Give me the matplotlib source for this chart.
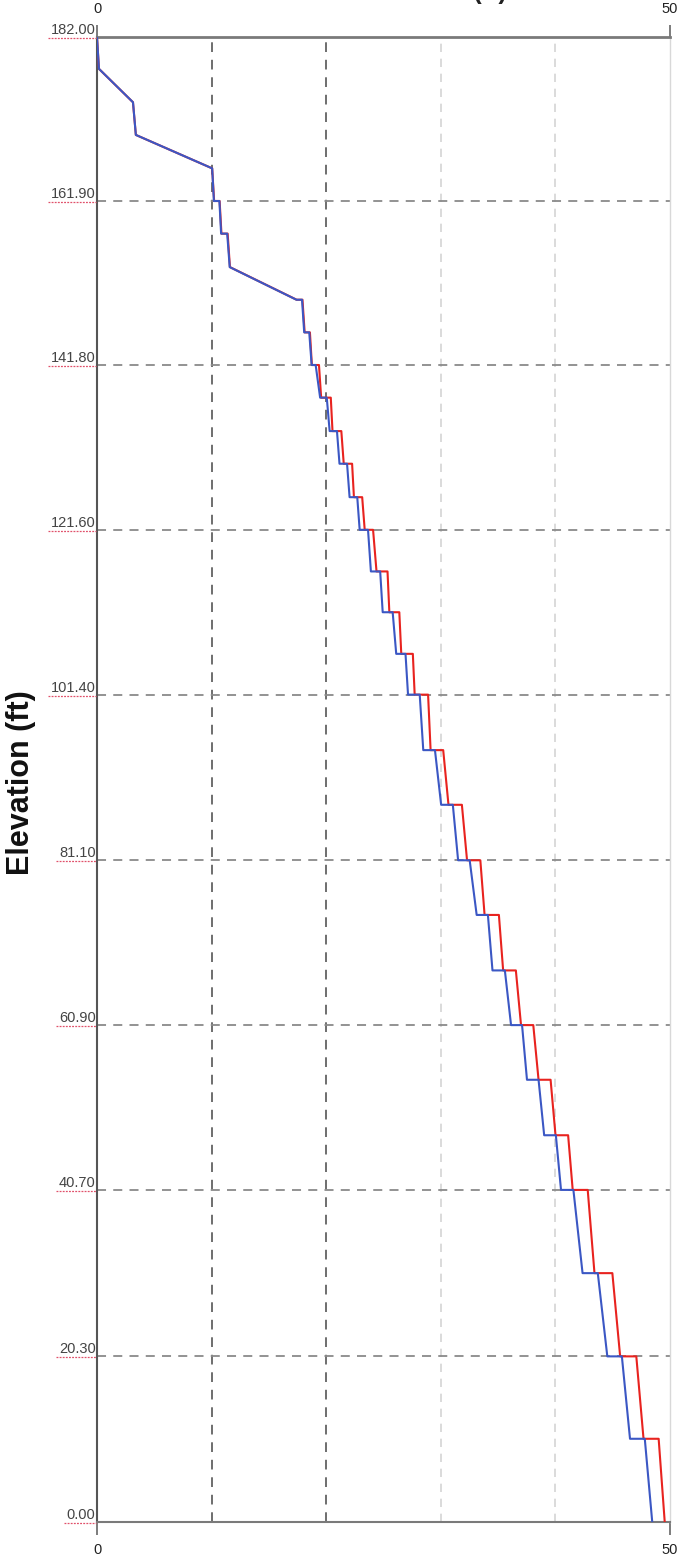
import matplotlib
matplotlib.use("Agg")
import matplotlib.pyplot as plt
from matplotlib.lines import Line2D

plt.rcParams["font.family"] = ["Liberation Sans", "DejaVu Sans"]

# node elevations along the profile (ft), top to bottom
node_elev = [182.0, 178.1, 174.0, 170.0, 165.9, 161.9, 157.9, 153.8, 149.8, 145.8,
             141.8, 137.8, 133.7, 129.7, 125.6, 121.6, 116.5, 111.5, 106.4, 101.4,
             94.6, 87.9, 81.1, 74.4, 67.6, 60.9, 54.2, 47.4, 40.7, 30.5,
             20.3, 10.2, 0.0]

# value reaching each node, and value right after the step at that node
blue_arrive = [0.0, 0.17, 3.14, 3.39, 10.05, 10.20, 10.83, 11.58, 17.40, 18.08,
               18.73, 19.47, 20.30, 21.16, 22.04, 22.92, 23.90, 24.93, 26.11, 27.14,
               28.47, 30.03, 31.51, 33.13, 34.51, 36.13, 37.52, 39.02, 40.49, 42.37,
               44.53, 46.51, 48.45]
blue_leave = [0.0, 0.17, 3.14, 3.39, 10.05, 10.68, 11.36, 11.58, 17.89, 18.52,
              19.08, 20.05, 20.94, 21.82, 22.71, 23.65, 24.71, 25.80, 26.92, 28.16,
              29.49, 31.05, 32.52, 34.11, 35.59, 37.09, 38.53, 40.04, 41.57, 43.70,
              45.80, 47.80, 48.45]
red_arrive = [0.0, 0.17, 3.14, 3.39, 10.05, 10.22, 10.86, 11.60, 17.42, 18.12,
              18.75, 19.56, 20.55, 21.53, 22.42, 23.36, 24.39, 25.51, 26.55, 27.72,
              29.11, 30.67, 32.29, 33.82, 35.44, 37.00, 38.53, 40.01, 41.51, 43.41,
              45.65, 47.69, 49.54]
red_leave = [0.0, 0.17, 3.14, 3.39, 10.05, 10.70, 11.40, 11.60, 17.93, 18.58,
             19.37, 20.40, 21.32, 22.26, 23.14, 24.09, 25.35, 26.38, 27.56, 28.89,
             30.21, 31.84, 33.45, 35.07, 36.55, 38.07, 39.58, 41.11, 42.82, 44.97,
             47.06, 49.01, 49.54]

y_ticks = [0.0, 20.3, 40.7, 60.9, 81.1, 101.4, 121.6, 141.8, 161.9, 182.0]
y_tick_labels = ["0.00", "20.30", "40.70", "60.90", "81.10", "101.40", "121.60",
                 "141.80", "161.90", "182.00"]
x_ticks = [0, 50]
x_grid_dark = [10, 20]
x_grid_light = [30, 40]


def profile(arrive, leave):
    xs, ys = [], []
    for e, a, l in zip(node_elev, arrive, leave):
        xs += [a, l]
        ys += [e, e]
    return xs, ys


fig = plt.figure(figsize=(6.81, 15.55), dpi=100)
W, H = 681, 1555
ax = fig.add_axes([97 / W, 1 - 1522 / H, (670 - 97) / W, (1522 - 37) / H])
ax.set_xlim(0, 50)
ax.set_ylim(0, 182)

dash = (0, (5, 4))
for x in x_grid_dark:
    ax.axvline(x, color="#6e6e6e", lw=1.4, ls=dash, zorder=1)
for x in x_grid_light:
    ax.axvline(x, color="#d4d4d4", lw=1.2, ls=dash, zorder=1)
for y in y_ticks[1:-1]:
    ax.axhline(y, color="#8a8a8a", lw=1.3, ls=dash, zorder=1)

rx, ry = profile(red_arrive, red_leave)
bx, by = profile(blue_arrive, blue_leave)
ax.plot(rx, ry, color="#e8231f", lw=1.5, zorder=3)
ax.plot(bx, by, color="#3b57c4", lw=1.5, zorder=4)

ax.spines["left"].set_color("#555555")
ax.spines["left"].set_linewidth(1.5)
ax.spines["top"].set_color("#7a7a7a")
ax.spines["top"].set_linewidth(2.0)
ax.spines["bottom"].set_color("#7a7a7a")
ax.spines["bottom"].set_linewidth(1.5)
ax.spines["right"].set_color("#d8d8d8")
ax.spines["right"].set_linewidth(1.0)

ax.set_xticks(x_ticks)
ax.set_xticklabels([str(v) for v in x_ticks])
ax.tick_params(axis="x", top=True, labeltop=True, bottom=True, labelbottom=True,
               length=9, width=1.2, color="#666666", labelsize=10.5,
               labelcolor="#222222", pad=6)
ax.set_yticks(y_ticks)
ax.set_yticklabels(y_tick_labels)
ax.tick_params(axis="y", length=0, labelsize=10.5, labelcolor="#444444", pad=1)
for lab in ax.get_yticklabels():
    lab.set_verticalalignment("bottom")

ax.set_ylabel("Elevation (ft)", fontsize=22, fontweight="bold", color="#111111")
ax.yaxis.set_label_coords(-0.107, 0.4976)

# axis title above the plot, mostly cut by the page edge
fig.text(507 / W, 1 + 1.5 / H, "Pressure Head (ft)", ha="right", va="baseline",
         fontsize=18, fontweight="bold", color="#222222")

# red underline beneath each elevation label
fig.canvas.draw()
renderer = fig.canvas.get_renderer()
for lab in ax.get_yticklabels():
    bb = lab.get_window_extent(renderer)
    y0 = bb.y0 - 1
    fig.add_artist(Line2D([bb.x0 / W - 0.004, bb.x1 / W], [y0 / H, y0 / H],
                          color="#e0506a", lw=0.9, ls=(0, (1.5, 1)),
                          transform=fig.transFigure))

fig.savefig("out.png", dpi=100)
